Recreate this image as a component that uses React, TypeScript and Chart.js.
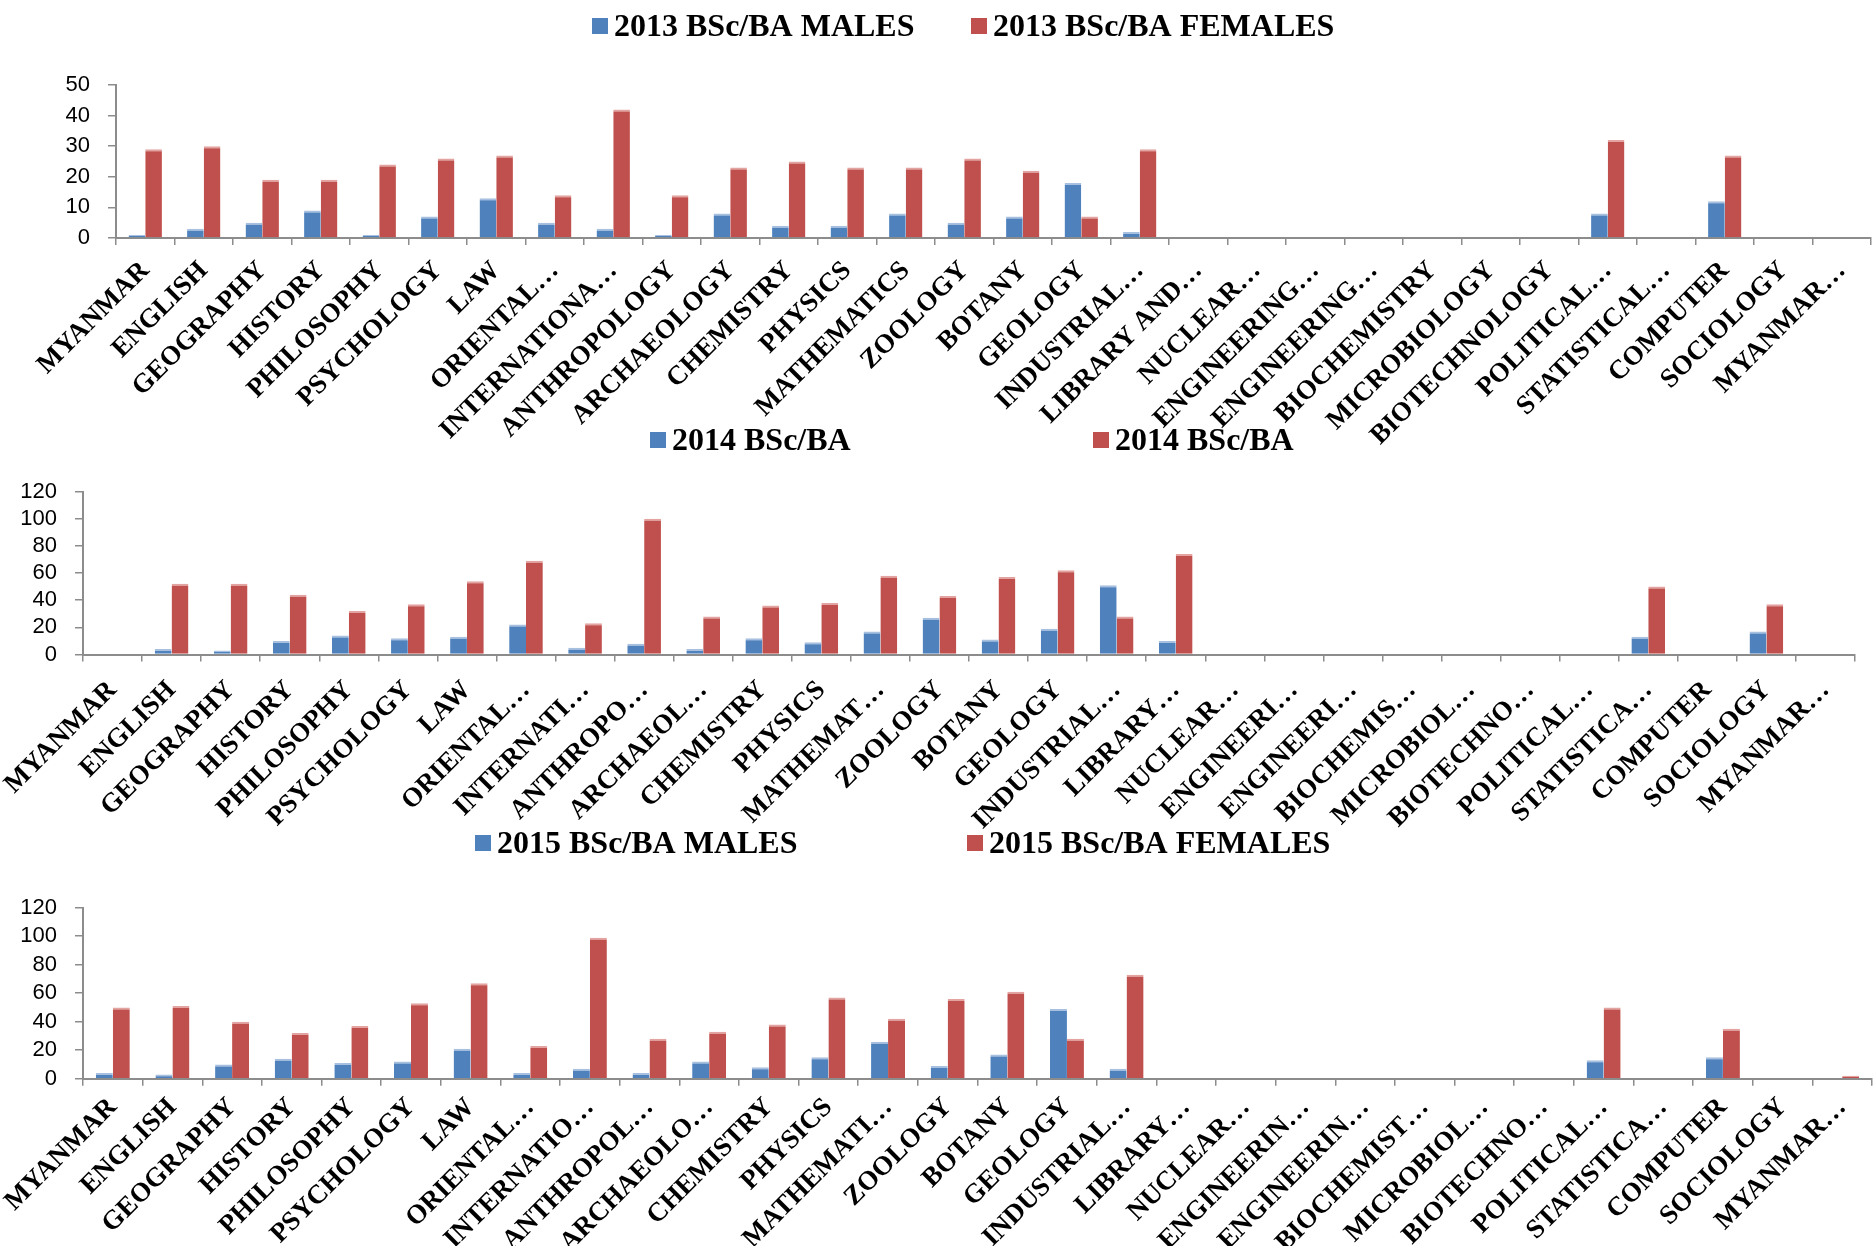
import React, { useEffect, useRef } from "react";
import { Chart, registerables } from "chart.js";

Chart.register(...registerables);

// ---------- DATA ----------
const categories2013 = [
  "MYANMAR", "ENGLISH", "GEOGRAPHY", "HISTORY", "PHILOSOPHY", "PSYCHOLOGY", "LAW",
  "ORIENTAL…", "INTERNATIONA…", "ANTHROPOLOGY", "ARCHAEOLOGY", "CHEMISTRY", "PHYSICS",
  "MATHEMATICS", "ZOOLOGY", "BOTANY", "GEOLOGY", "INDUSTRIAL…", "LIBRARY AND…", "NUCLEAR…",
  "ENGINEERING…", "ENGINEERING…", "BIOCHEMISTRY", "MICROBIOLOGY", "BIOTECHNOLOGY",
  "POLITICAL…", "STATISTICAL…", "COMPUTER", "SOCIOLOGY", "MYANMAR…",
];
const males2013 = [1, 3, 5, 9, 1, 7, 13, 5, 3, 1, 8, 4, 4, 8, 5, 7, 18, 2, 0, 0, 0, 0, 0, 0, 0, 8, 0, 12, 0, 0];
const females2013 = [29, 30, 19, 19, 24, 26, 27, 14, 42, 14, 23, 25, 23, 23, 26, 22, 7, 29, 0, 0, 0, 0, 0, 0, 0, 32, 0, 27, 0, 0];
const legend2013 = ["2013 BSc/BA MALES", "2013 BSc/BA FEMALES"];

const categories2014 = [
  "MYANMAR", "ENGLISH", "GEOGRAPHY", "HISTORY", "PHILOSOPHY", "PSYCHOLOGY", "LAW",
  "ORIENTAL…", "INTERNATI…", "ANTHROPO…", "ARCHAEOL…", "CHEMISTRY", "PHYSICS",
  "MATHEMAT…", "ZOOLOGY", "BOTANY", "GEOLOGY", "INDUSTRIAL…", "LIBRARY…", "NUCLEAR…",
  "ENGINEERI…", "ENGINEERI…", "BIOCHEMIS…", "MICROBIOL…", "BIOTECHNO…",
  "POLITICAL…", "STATISTICA…", "COMPUTER", "SOCIOLOGY", "MYANMAR…",
];
const males2014 = [0, 4, 3, 10, 14, 12, 13, 22, 5, 8, 4, 12, 9, 17, 27, 11, 19, 51, 10, 0, 0, 0, 0, 0, 0, 0, 13, 0, 17, 0];
const females2014 = [0, 52, 52, 44, 32, 37, 54, 69, 23, 100, 28, 36, 38, 58, 43, 57, 62, 28, 74, 0, 0, 0, 0, 0, 0, 0, 50, 0, 37, 0];
const legend2014 = ["2014 BSc/BA", "2014 BSc/BA"];

const categories2015 = [
  "MYANMAR", "ENGLISH", "GEOGRAPHY", "HISTORY", "PHILOSOPHY", "PSYCHOLOGY", "LAW",
  "ORIENTAL…", "INTERNATIO…", "ANTHROPOL…", "ARCHAEOLO…", "CHEMISTRY", "PHYSICS",
  "MATHEMATI…", "ZOOLOGY", "BOTANY", "GEOLOGY", "INDUSTRIAL…", "LIBRARY…", "NUCLEAR…",
  "ENGINEERIN…", "ENGINEERIN…", "BIOCHEMIST…", "MICROBIOL…", "BIOTECHNO…",
  "POLITICAL…", "STATISTICA…", "COMPUTER", "SOCIOLOGY", "MYANMAR…",
];
const males2015 = [4, 3, 10, 14, 11, 12, 21, 4, 7, 4, 12, 8, 15, 26, 9, 17, 49, 7, 0, 0, 0, 0, 0, 0, 0, 13, 0, 15, 0, 0];
const females2015 = [50, 51, 40, 32, 37, 53, 67, 23, 99, 28, 33, 38, 57, 42, 56, 61, 28, 73, 0, 0, 0, 0, 0, 0, 0, 50, 0, 35, 0, 2];
const legend2015 = ["2015 BSc/BA MALES", "2015 BSc/BA FEMALES"];

const yMax2013 = 50;
const yStep2013 = 10;
const yMax2014 = 120;
const yStep2014 = 20;
const yMax2015 = 120;
const yStep2015 = 20;

// ---------- STYLE ----------
const BLUE = "#4F81BD";
const RED = "#C0504D";
const BLUE_TOP = "#A7C0E0";
const RED_TOP = "#E3A3A1";
const AXIS = "#8C8C8C";
const W = 1874;

const legendPlugin = {
  id: "customLegend",
  afterDraw(chart: any, _args: any, opts: any) {
    const ctx = chart.ctx;
    ctx.save();
    ctx.font = opts.font;
    ctx.textBaseline = "alphabetic";
    ctx.textAlign = "left";
    chart.data.datasets.forEach((ds: any, i: number) => {
      const x = opts.xs[i];
      ctx.fillStyle = ds.backgroundColor;
      ctx.fillRect(x, opts.boxTop, opts.box, opts.box);
      ctx.fillStyle = "#000";
      ctx.fillText(ds.label, x + opts.gap, opts.baseline);
    });
    ctx.restore();
  },
};

type Layout = {
  top: number;
  height: number;
  padTop: number;
  padRight: number;
  yWidth: number;
  xHeight: number;
  xPad: number;
  legendXs: number[];
  legendBoxTop: number;
  legendBaseline: number;
};

function makeConfig(
  labels: string[],
  males: number[],
  females: number[],
  legend: string[],
  yMax: number,
  yStep: number,
  L: Layout
): any {
  return {
    type: "bar",
    data: {
      labels,
      datasets: [
        {
          label: legend[0],
          data: males,
          backgroundColor: BLUE,
          borderColor: BLUE_TOP,
          borderWidth: { top: 2, left: 0, right: 0, bottom: 0 },
          borderSkipped: "bottom",
          categoryPercentage: 0.57,
          barPercentage: 1.0,
        },
        {
          label: legend[1],
          data: females,
          backgroundColor: RED,
          borderColor: RED_TOP,
          borderWidth: { top: 2, left: 0, right: 0, bottom: 0 },
          borderSkipped: "bottom",
          categoryPercentage: 0.57,
          barPercentage: 1.0,
        },
      ],
    },
    options: {
      responsive: false,
      maintainAspectRatio: false,
      animation: false,
      devicePixelRatio: 1,
      layout: { padding: { top: L.padTop, right: L.padRight, left: 0, bottom: 0 } },
      plugins: {
        legend: { display: false },
        tooltip: { enabled: false },
        customLegend: {
          font: 'bold 32px "Liberation Serif", "Times New Roman", serif',
          xs: L.legendXs,
          boxTop: L.legendBoxTop,
          baseline: L.legendBaseline,
          box: 16,
          gap: 22,
        },
      },
      scales: {
        x: {
          type: "category",
          offset: true,
          grid: {
            offset: true,
            drawOnChartArea: false,
            drawTicks: true,
            tickLength: 7,
            color: AXIS,
            lineWidth: 1.5,
          },
          border: { display: true, color: AXIS, width: 2 },
          ticks: {
            autoSkip: false,
            minRotation: 45,
            maxRotation: 45,
            padding: L.xPad,
            color: "#000",
            font: { family: '"Liberation Serif", "Times New Roman", serif', size: 27, weight: "bold" },
          },
          afterFit: (s: any) => {
            s.height = L.xHeight;
            s.paddingLeft = 0;
            s.paddingRight = 0;
          },
        },
        y: {
          min: 0,
          max: yMax,
          grid: {
            drawOnChartArea: false,
            drawTicks: true,
            tickLength: 8,
            color: AXIS,
            lineWidth: 1.5,
          },
          border: { display: true, color: AXIS, width: 2 },
          ticks: {
            stepSize: yStep,
            autoSkip: false,
            padding: 18,
            color: "#000",
            font: { family: '"Liberation Sans", Arial, sans-serif', size: 22 },
          },
          afterFit: (s: any) => {
            s.width = L.yWidth;
            s.paddingTop = 0;
            s.paddingBottom = 0;
          },
        },
      },
    },
    plugins: [legendPlugin],
  };
}

const layout2013: Layout = {
  top: 0, height: 480, padTop: 85, padRight: 3, yWidth: 116, xHeight: 480 - 238, xPad: 10,
  legendXs: [592, 971], legendBoxTop: 18, legendBaseline: 36,
};
const layout2014: Layout = {
  top: 400, height: 500, padTop: 91.5, padRight: 19, yWidth: 83, xHeight: 900 - 654.5, xPad: 13,
  legendXs: [650, 1093], legendBoxTop: 32, legendBaseline: 50,
};
const layout2015: Layout = {
  top: 800, height: 446, padTop: 107.7, padRight: 2, yWidth: 83, xHeight: 1246 - 1078.7, xPad: 6,
  legendXs: [475, 967], legendBoxTop: 35, legendBaseline: 53,
};

function BarPanel(props: {
  labels: string[];
  males: number[];
  females: number[];
  legend: string[];
  yMax: number;
  yStep: number;
  layout: Layout;
}) {
  const ref = useRef<HTMLCanvasElement | null>(null);
  useEffect(() => {
    if (!ref.current) return;
    const chart = new Chart(
      ref.current,
      makeConfig(props.labels, props.males, props.females, props.legend, props.yMax, props.yStep, props.layout)
    );
    return () => chart.destroy();
  }, []);
  const L = props.layout;
  return (
    <canvas
      ref={ref}
      width={W}
      height={L.height}
      style={{ position: "absolute", left: 0, top: L.top, width: W, height: L.height }}
    />
  );
}

export default function App() {
  return (
    <div style={{ position: "fixed", left: 0, top: 0, width: W, height: 1246, background: "#fff", overflow: "hidden" }}>
      <BarPanel labels={categories2013} males={males2013} females={females2013} legend={legend2013} yMax={yMax2013} yStep={yStep2013} layout={layout2013} />
      <BarPanel labels={categories2014} males={males2014} females={females2014} legend={legend2014} yMax={yMax2014} yStep={yStep2014} layout={layout2014} />
      <BarPanel labels={categories2015} males={males2015} females={females2015} legend={legend2015} yMax={yMax2015} yStep={yStep2015} layout={layout2015} />
    </div>
  );
}
